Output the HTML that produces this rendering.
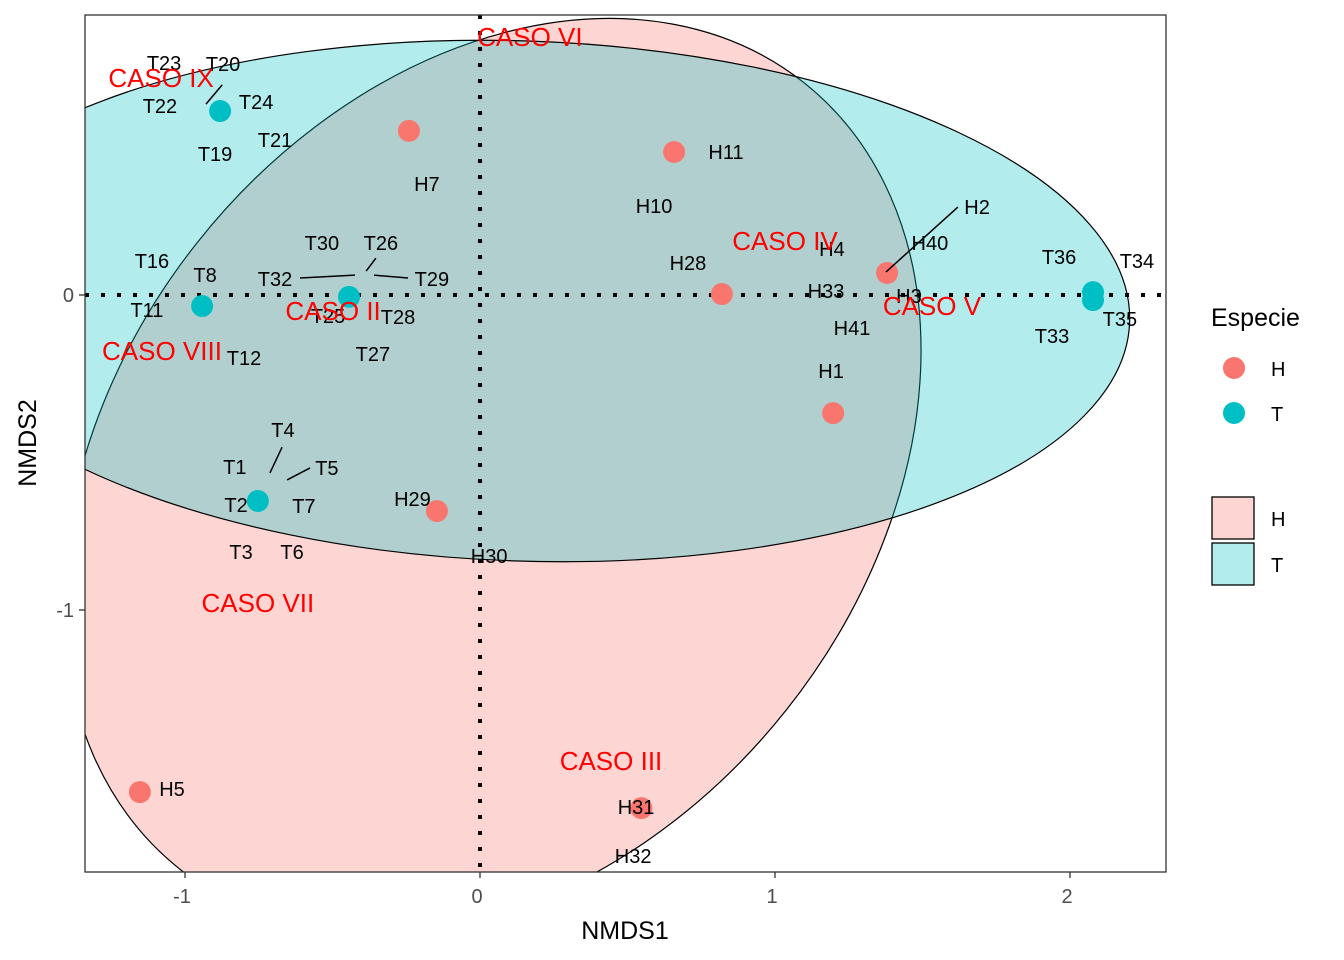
<!DOCTYPE html>
<html><head><meta charset="utf-8"><style>
html,body{margin:0;padding:0;background:#fff;overflow:hidden;width:1344px;height:960px;}
svg{display:block;}
svg text{font-family:"Liberation Sans",Arial,sans-serif;}
</style></head><body>
<svg id="chart" width="1344" height="960" xmlns="http://www.w3.org/2000/svg"></svg>
<script>
const hCats=["H","H","H","H","H","H","H","H"];
const hX=[-0.241,0.658,1.380,0.820,1.197,-0.146,-1.153,0.547];
const hY=[0.521,0.454,0.070,0.003,-0.375,-0.686,-1.578,-1.629];
const tX=[-0.881,-0.444,-0.942,-0.753,2.078,2.078];
const tY=[0.584,-0.006,-0.035,-0.654,0.009,-0.016];
const xTicks=[-1,0,1,2];
const yTicks=[0,-1];
const lblText=["T23","T20","T22","T24","T21","T19","H7","H11","H10","H2","H40","H4","T30","T26","T16","T8","T32","T29","H28","T36","T34","H33","H3","T11","T25","T28","T35","T33","H41","T12","T27","H1","T4","T1","T5","T2","T7","H29","T3","T6","H30","H5","H31","H32"];
const lblX=[-1.071,-0.871,-1.085,-0.759,-0.695,-0.898,-0.180,0.834,0.590,1.685,1.525,1.193,-0.536,-0.336,-1.112,-0.932,-0.695,-0.163,0.705,1.963,2.227,1.173,1.454,-1.129,-0.515,-0.278,2.169,1.939,1.261,-0.800,-0.363,1.190,-0.668,-0.831,-0.519,-0.827,-0.597,-0.229,-0.810,-0.637,0.031,-1.044,0.529,0.519];
const lblY=[0.737,0.733,0.600,0.613,0.492,0.448,0.352,0.454,0.283,0.279,0.165,0.146,0.165,0.165,0.108,0.063,0.051,0.051,0.102,0.121,0.108,0.013,-0.003,-0.048,-0.067,-0.070,-0.076,-0.130,-0.105,-0.200,-0.187,-0.241,-0.429,-0.546,-0.549,-0.667,-0.670,-0.648,-0.816,-0.816,-0.829,-1.568,-1.625,-1.781];
const casoText=["CASO VI","CASO IX","CASO IV","CASO II","CASO V","CASO VIII","CASO VII","CASO III"];
const casoX=[0.169,-1.081,1.034,-0.498,1.532,-1.078,-0.753,0.444];
const casoY=[0.819,0.689,0.171,-0.051,-0.035,-0.178,-0.978,-1.479];
const segX1=[-0.874,1.620,-0.610,-0.353,-0.359,-0.671,-0.576];
const segY1=[0.667,0.279,0.054,0.117,0.063,-0.483,-0.549];
const segX2=[-0.929,1.376,-0.424,-0.386,-0.244,-0.712,-0.654];
const segY2=[0.606,0.073,0.063,0.076,0.054,-0.565,-0.587];

const NS="http://www.w3.org/2000/svg";
const svg=document.getElementById('chart');
const L=85,R=1166,T=15,B=872;
const sx=v=>480+v*295;
const sy=v=>295-v*315;
function mk(tag,attrs,parent){const e=document.createElementNS(NS,tag);for(const k in attrs)e.setAttribute(k,attrs[k]);(parent||svg).appendChild(e);return e;}

const defs=mk('defs',{});
const cp=mk('clipPath',{id:'clip'},defs);
mk('rect',{x:L,y:T,width:R-L,height:B-T},cp);
const g=mk('g',{'clip-path':'url(#clip)'});



const eH=mk('ellipse',{cx:492,cy:476,rx:502,ry:376,transform:'rotate(-51.6 492 476)',fill:'rgba(248,118,109,0.3)',stroke:'#000','stroke-width':1.2},g);


const eT=mk('ellipse',{cx:522,cy:301,rx:608,ry:260,transform:'rotate(2 522 301)',fill:'rgba(0,191,196,0.3)',stroke:'#000','stroke-width':1.2},g);



const vl=mk('line',{x1:sx(0),x2:sx(0),y1:T,y2:B,stroke:'#000','stroke-width':4,'stroke-dasharray':'4 12'},g);


const hl=mk('line',{x1:L,x2:R,y1:sy(0),y2:sy(0),stroke:'#000','stroke-width':4,'stroke-dasharray':'4 12'},g);



for(let i=0;i<hX.length;i++){const c=mk('circle',{cx:sx(hX[i]),cy:sy(hY[i]),r:11,fill:'#F8766D'},g);

}
for(let i=0;i<tX.length;i++){const c=mk('circle',{cx:sx(tX[i]),cy:sy(tY[i]),r:11,fill:'#00BFC4'},g);

}
for(let i=0;i<segX1.length;i++){const s=mk('line',{x1:sx(segX1[i]),y1:sy(segY1[i]),x2:sx(segX2[i]),y2:sy(segY2[i]),stroke:'#000','stroke-width':1.5},g);

}
for(let i=0;i<lblText.length;i++){const t=mk('text',{x:sx(lblX[i]),y:sy(lblY[i])+7,'font-size':20,'text-anchor':'middle',fill:'#000'},g);t.textContent=lblText[i];

}
for(let i=0;i<casoText.length;i++){const t=mk('text',{x:sx(casoX[i]),y:sy(casoY[i])+9,'font-size':26,'text-anchor':'middle',fill:'#FF0000'},g);t.textContent=casoText[i];

}

const fr=mk('rect',{x:L,y:T,width:R-L,height:B-T,fill:'none',stroke:'#333','stroke-width':1.3});



for(const v of xTicks){mk('line',{x1:sx(v),x2:sx(v),y1:B,y2:B+6,stroke:'#333','stroke-width':1.3});
const t=mk('text',{x:sx(v)-3,y:B+31,'font-size':20,'text-anchor':'middle',fill:'#4d4d4d'});t.textContent=v;

}
for(const v of yTicks){mk('line',{x1:L-6,x2:L,y1:sy(v),y2:sy(v),stroke:'#333','stroke-width':1.3});
const t=mk('text',{x:L-11,y:sy(v)+7,'font-size':20,'text-anchor':'end',fill:'#4d4d4d'});t.textContent=v;

}

const xt=mk('text',{x:625,y:939,'font-size':25,'text-anchor':'middle',fill:'#000'});xt.textContent='NMDS1';


const yt=mk('text',{x:0,y:0,'font-size':25,'text-anchor':'middle',fill:'#000',transform:'translate(36 443) rotate(-90)'});yt.textContent='NMDS2';



const lt=mk('text',{x:1211,y:326,'font-size':25,fill:'#000'});lt.textContent='Especie';


const legCats=['H','T'];const legCols=['#F8766D','#00BFC4'];const legFill=['#FDD6D3','#B3ECED'];
for(let i=0;i<2;i++){
const c=mk('circle',{cx:1234,cy:368+i*45,r:11,fill:legCols[i]});


const t=mk('text',{x:1271,y:376+i*45,'font-size':20,fill:'#000'});t.textContent=legCats[i];


const r=mk('rect',{x:1212,y:497+i*46,width:42,height:42,fill:legFill[i],stroke:'#000','stroke-width':1.3});


const t2=mk('text',{x:1271,y:526+i*46,'font-size':20,fill:'#000'});t2.textContent=legCats[i];


}
</script>
</body></html>
